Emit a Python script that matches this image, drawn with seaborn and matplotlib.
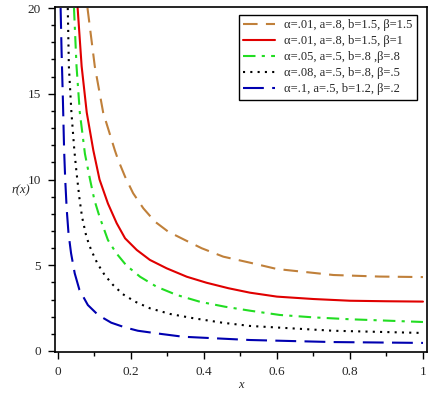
import numpy as np
import pandas as pd
import matplotlib
matplotlib.use("Agg")
import matplotlib.pyplot as plt
import seaborn as sns

# values
x_brown = [0.081, 0.101, 0.124, 0.156, 0.165, 0.184, 0.206, 0.234, 0.266, 0.302, 0.348, 0.394, 0.453, 0.526, 0.6, 0.755, 0.88, 1.0]
y_brown = [20.0, 16.6, 13.9, 11.7, 11.14, 10.16, 9.2, 8.32, 7.54, 6.96, 6.47, 5.99, 5.5, 5.15, 4.78, 4.43, 4.34, 4.31]

x_red = [0.054, 0.065, 0.079, 0.097, 0.114, 0.137, 0.161, 0.184, 0.216, 0.252, 0.298, 0.353, 0.407, 0.467, 0.526, 0.6, 0.7, 0.8, 0.9, 1.0]
y_red = [20.0, 16.6, 13.9, 11.7, 10.0, 8.6, 7.45, 6.57, 5.89, 5.31, 4.82, 4.33, 3.98, 3.66, 3.4, 3.17, 3.03, 2.93, 2.9, 2.88]

x_green = [0.044, 0.051, 0.060, 0.074, 0.088, 0.1, 0.114, 0.137, 0.160, 0.187, 0.225, 0.27, 0.325, 0.389, 0.458, 0.526, 0.608, 0.7, 0.8, 1.0]
y_green = [20.0, 16.6, 13.9, 11.5, 10.0, 8.8, 7.83, 6.47, 5.7, 5.0, 4.33, 3.75, 3.27, 2.87, 2.58, 2.35, 2.1, 1.96, 1.85, 1.69]

x_black = [0.027, 0.030, 0.037, 0.045, 0.051, 0.059, 0.066, 0.078, 0.091, 0.108, 0.128, 0.151, 0.178, 0.212, 0.252, 0.307, 0.371, 0.45, 0.526, 0.754, 1.0]
y_black = [20.0, 16.6, 13.9, 11.7, 10.4, 8.9, 7.83, 6.66, 5.89, 5.11, 4.43, 3.85, 3.31, 2.87, 2.49, 2.16, 1.91, 1.65, 1.46, 1.18, 1.05]

x_blue = [0.0074, 0.010, 0.0137, 0.017, 0.020, 0.024, 0.029, 0.036, 0.046, 0.059, 0.082, 0.11, 0.146, 0.183, 0.219, 0.284, 0.343, 0.526, 0.754, 1.0]
y_blue = [20.0, 17.5, 14.6, 11.7, 10.0, 8.3, 6.86, 5.7, 4.53, 3.56, 2.68, 2.1, 1.65, 1.38, 1.18, 0.99, 0.83, 0.64, 0.52, 0.47]

labels = [
    "α=.01, a=.8, b=1.5, β=1.5",
    "α=.01, a=.8, b=1.5, β=1",
    "α=.05, a=.5, b=.8 ,β=.8",
    "α=.08, a=.5, b=.8, β=.5",
    "α=.1, a=.5, b=1.2, β=.2",
]

x_ticks = [0, 0.2, 0.4, 0.6, 0.8, 1.0]
x_ticklabels = ["0", "0.2", "0.4", "0.6", "0.8", "1"]
x_minor = [0.1, 0.3, 0.5, 0.7, 0.9]
y_ticks = [0, 5, 10, 15, 20]
y_ticklabels = ["0", "5", "10", "15", "20"]
y_minor = [1, 2, 3, 4, 6, 7, 8, 9, 11, 12, 13, 14, 16, 17, 18, 19]

sns.set_style("ticks")
plt.rcParams["font.family"] = ["Liberation Serif", "DejaVu Serif"]
plt.rcParams["xtick.minor.bottom"] = True
plt.rcParams["ytick.minor.left"] = True

fig = plt.figure(figsize=(4.31, 3.93), dpi=100)
ax = fig.add_axes([0.1276, 0.1043, 0.8631, 0.8779])

series = [
    (x_brown, y_brown, "#C0803A", (0, (7, 4))),
    (x_red, y_red, "#E00000", "-"),
    (x_green, y_green, "#22DD22", (0, (6, 3, 1.5, 3))),
    (x_black, y_black, "black", (0, (1, 2.5))),
    (x_blue, y_blue, "#0000B0", (0, (10, 4))),
]

for (xs, ys, col, ls), lab in zip(series, labels):
    df = pd.DataFrame({"x": xs, "y": ys})
    sns.lineplot(data=df, x="x", y="y", ax=ax, color=col, linestyle=ls,
                 linewidth=1.5, sort=False, label=lab)

ax.set_xlim(-0.008, 1.011)
ax.set_ylim(-0.06, 20.06)
ax.set_xticks(x_ticks)
ax.set_xticklabels(x_ticklabels)
ax.set_xticks(x_minor, minor=True)
ax.set_yticks(y_ticks)
ax.set_yticklabels(y_ticklabels)
ax.set_yticks(y_minor, minor=True)
ax.tick_params(which="major", direction="out", length=5, width=1, labelsize=9.5, pad=5,
               color="black", bottom=True, left=True)
ax.tick_params(which="minor", direction="out", length=3, width=1,
               color="black", bottom=True, left=True)
for sp in ax.spines.values():
    sp.set_visible(True)
    sp.set_linewidth(1.2)
    sp.set_color("black")

ax.set_xlabel("x", fontstyle="italic", fontsize=9, labelpad=1)
ax.set_ylabel("r(x)", fontstyle="italic", fontsize=9, rotation=0, ha="center", va="center")
ax.yaxis.set_label_coords(-0.093, 0.47)

leg = ax.legend(loc="upper right", bbox_to_anchor=(0.973, 0.977), fontsize=9,
                frameon=True, fancybox=False, handlelength=2.6, handletextpad=0.7,
                borderpad=0.35, labelspacing=0.32, borderaxespad=0.0)
leg.get_frame().set_edgecolor("black")
leg.get_frame().set_linewidth(1.0)
leg.get_frame().set_alpha(1)

fig.savefig("out.png", dpi=100)
